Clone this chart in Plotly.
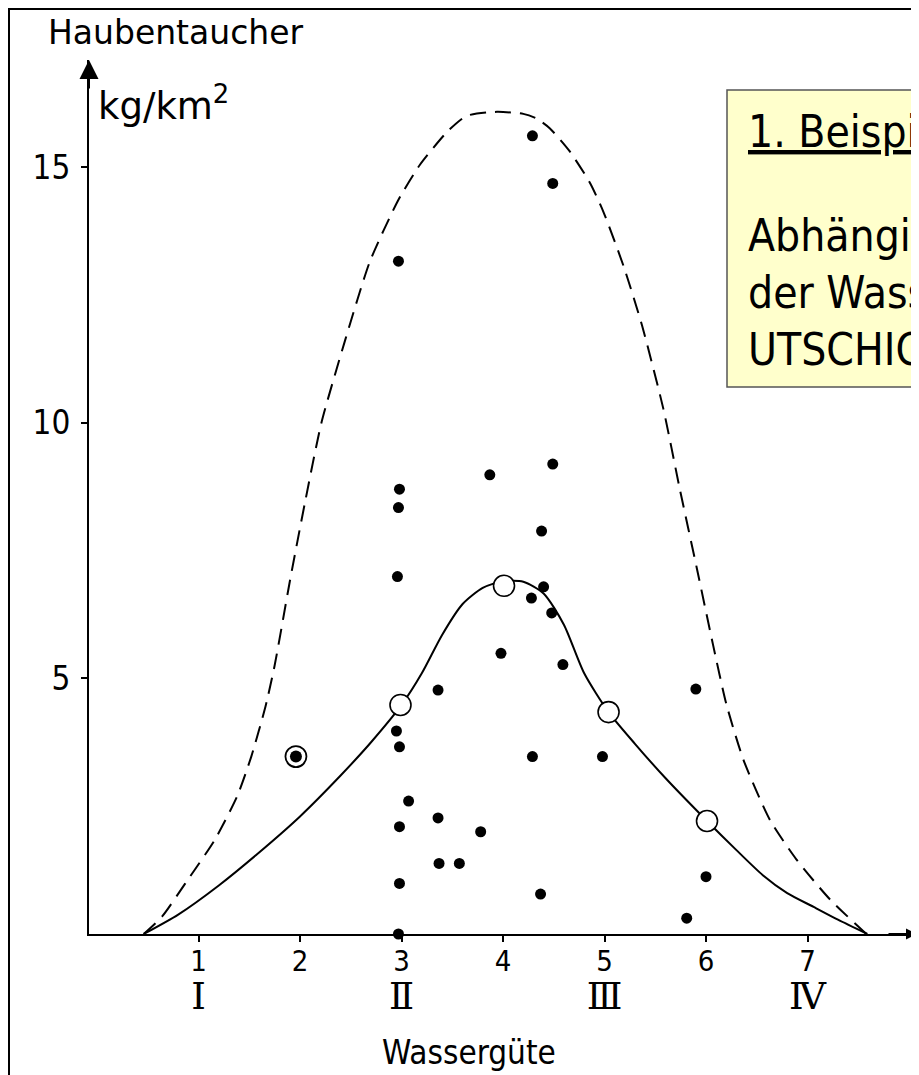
import plotly.graph_objects as go

# ---------------- data ----------------
dots_x = [2.97, 2.98, 2.97, 2.96, 2.95, 2.98, 2.98, 2.98, 2.97, 3.07,
          3.36, 3.36, 3.37, 3.57, 3.78, 3.87, 3.98, 4.28, 4.29, 4.29,
          4.37, 4.38, 4.40, 4.48, 4.49, 4.49, 4.59, 4.98, 5.81, 5.90, 6.00]
dots_y = [13.16, 8.70, 8.34, 6.99, 3.97, 3.66, 2.10, 0.99, 0.00, 2.60,
          4.77, 2.27, 1.38, 1.38, 2.00, 8.98, 5.49, 6.57, 3.47, 15.61,
          0.78, 7.88, 6.79, 6.28, 14.68, 9.19, 5.27, 3.47, 0.31, 4.79, 1.12]

ringed_x = [1.96]
ringed_y = [3.47]

mean_x = [2.99, 4.01, 5.04, 6.01]
mean_y = [4.48, 6.81, 4.34, 2.21]

solid_x = [0.46, 0.80, 1.20, 1.60, 2.00, 2.40, 2.70, 3.00, 3.20, 3.40, 3.60,
           3.80, 4.00, 4.20, 4.40, 4.60, 4.80, 5.04, 5.30, 5.60, 6.01, 6.30,
           6.56, 6.80, 7.06, 7.30, 7.59]
solid_y = [0.00, 0.38, 0.95, 1.60, 2.30, 3.10, 3.75, 4.48, 5.10, 5.85, 6.45,
           6.77, 6.90, 6.89, 6.66, 6.05, 5.10, 4.34, 3.72, 3.05, 2.21, 1.64,
           1.15, 0.80, 0.53, 0.28, 0.00]

dash_x = [0.46, 0.64, 0.87, 1.16, 1.38, 1.52, 1.66, 1.75, 1.90, 2.05, 2.21,
          2.45, 2.69, 2.97, 3.18, 3.45, 3.64, 3.94, 4.20, 4.33, 4.46, 4.66,
          4.86, 4.99, 5.19, 5.37, 5.58, 5.74, 5.91, 6.07, 6.20, 6.37, 6.63,
          6.89, 7.22, 7.58]
dash_y = [0.00, 0.34, 0.99, 1.84, 2.69, 3.47, 4.45, 5.25, 6.90, 8.45, 9.99,
          11.65, 13.16, 14.36, 15.04, 15.69, 16.00, 16.08, 16.04, 15.95, 15.76,
          15.30, 14.68, 14.12, 13.05, 11.90, 10.27, 8.72, 7.15, 5.65, 4.50,
          3.40, 2.23, 1.46, 0.68, 0.00]

x_ticks = [1, 2, 3, 4, 5, 6, 7]
x_tick_text = ["1", "2", "3", "4", "5", "6", "7"]
roman_text = ["Ⅰ", "", "Ⅱ", "", "Ⅲ", "", "Ⅳ"]   # quality classes under ticks
y_ticks = [5, 10, 15]
y_tick_text = ["5", "10", "15"]

# ---------------- layout geometry (page pixels) ----------------
PAGE_W, PAGE_H = 919, 1075
OFF = 8                         # default body margin of the html page
W, H = PAGE_W - OFF, PAGE_H - OFF
L, R, T, B = 89, 917, 60, 934   # plot area in page pixels
X_RANGE = [(89 - 97) / 101.5, (917 - 97) / 101.5]
Y_RANGE = [0, (934 - 60) / 51.13]


def fx(px):
    return (px - L) / (R - L)


def fy(py):
    return (B - py) / (B - T)


ROMAN_STYLE = "font-family:DejaVu Serif, DejaVu Sans;font-size:37px"
x_labels = []
for d, r in zip(x_tick_text, roman_text):
    if r:
        x_labels.append(f"{d}<br><span style='{ROMAN_STYLE}'>{r}</span>")
    else:
        x_labels.append(d)

fig = go.Figure()

fig.add_trace(go.Scatter(x=dash_x, y=dash_y, mode="lines",
                         line=dict(color="black", width=2, dash="16px,9px",
                                   shape="spline", smoothing=0.6),
                         hoverinfo="skip", showlegend=False))
fig.add_trace(go.Scatter(x=solid_x, y=solid_y, mode="lines",
                         line=dict(color="black", width=2,
                                   shape="spline", smoothing=0.7),
                         hoverinfo="skip", showlegend=False))
fig.add_trace(go.Scatter(x=dots_x, y=dots_y, mode="markers",
                         marker=dict(color="black", size=11),
                         cliponaxis=False, showlegend=False))
fig.add_trace(go.Scatter(x=ringed_x, y=ringed_y, mode="markers",
                         marker=dict(color="white", size=21,
                                     line=dict(color="black", width=1.8)),
                         cliponaxis=False, showlegend=False))
fig.add_trace(go.Scatter(x=ringed_x, y=ringed_y, mode="markers",
                         marker=dict(color="black", size=12),
                         cliponaxis=False, showlegend=False))
fig.add_trace(go.Scatter(x=mean_x, y=mean_y, mode="markers",
                         marker=dict(color="white", size=21,
                                     line=dict(color="black", width=1.6)),
                         cliponaxis=False, showlegend=False))

tick_font = dict(family="Liberation Sans Narrow, DejaVu Sans Condensed, sans-serif",
                 color="black")

fig.update_xaxes(range=X_RANGE, showgrid=False, zeroline=False,
                 showline=True, linecolor="black", linewidth=2,
                 tickmode="array", tickvals=x_ticks, ticktext=x_labels,
                 ticks="outside", ticklen=6, tickwidth=2, tickcolor="black",
                 ticklabelstandoff=-6,
                 tickfont=dict(size=29, **tick_font), fixedrange=True)
fig.update_yaxes(range=Y_RANGE, showgrid=False, zeroline=False,
                 showline=True, linecolor="black", linewidth=2,
                 tickmode="array", tickvals=y_ticks, ticktext=y_tick_text,
                 ticks="outside", ticklen=6, tickwidth=2, tickcolor="black",
                 ticklabelstandoff=4,
                 tickfont=dict(size=33, **tick_font), fixedrange=True)

shapes = [
    # outer frame
    dict(type="rect", xref="paper", yref="paper",
         x0=fx(9), x1=fx(940), y0=fy(1100), y1=fy(9),
         line=dict(color="black", width=2), fillcolor="rgba(0,0,0,0)",
         layer="below"),
    # yellow text box
    dict(type="rect", xref="paper", yref="paper",
         x0=fx(727), x1=fx(940), y0=fy(387), y1=fy(90),
         line=dict(color="#555555", width=1.5), fillcolor="#FFFFCC",
         layer="above"),
]

annotations = [
    # axis arrowheads
    dict(xref="paper", yref="paper", x=0, y=1, ax=0, ay=30, text="",
         showarrow=True, arrowhead=2, arrowsize=1.9, arrowwidth=2,
         arrowcolor="black"),
    dict(xref="paper", yref="paper", x=1, y=0, ax=-30, ay=0, text="",
         showarrow=True, arrowhead=2, arrowsize=1.1, arrowwidth=2,
         arrowcolor="black"),
    # axis titles
    dict(xref="paper", yref="paper", x=fx(46), y=fy(32), text="Haubentaucher",
         xanchor="left", yanchor="middle", showarrow=False,
         font=dict(family="DejaVu Sans", size=33, color="black")),
    dict(xref="paper", yref="paper", x=fx(96), y=fy(103),
         text="kg/km<sup>2</sup>", xanchor="left", yanchor="middle",
         showarrow=False,
         font=dict(family="DejaVu Sans", size=37, color="black")),
    dict(xref="paper", yref="paper", x=fx(469), y=fy(1052), text="Wassergüte",
         xanchor="center", yanchor="middle", showarrow=False,
         font=dict(family="DejaVu Sans Condensed, DejaVu Sans", size=33,
                   color="black")),
    # text box content
    dict(xref="paper", yref="paper", x=fx(746), y=fy(131),
         text="<u>1. Beispiel</u>", xanchor="left", yanchor="middle",
         align="left", showarrow=False,
         font=dict(family="DejaVu Sans Condensed, DejaVu Sans", size=44,
                   color="black")),
    dict(xref="paper", yref="paper", x=fx(746), y=fy(292),
         text="Abhängigkeit der Biomasse<br>der Wassergüte (nach<br>UTSCHICK 1976)",
         xanchor="left", yanchor="middle", align="left", showarrow=False,
         font=dict(family="DejaVu Sans Condensed, DejaVu Sans", size=44,
                   color="black")),
]

fig.update_layout(width=W, height=H, autosize=False,
                  margin=dict(l=L - OFF, r=PAGE_W - R, t=T - OFF,
                              b=PAGE_H - B, pad=0),
                  paper_bgcolor="white", plot_bgcolor="white",
                  shapes=shapes, annotations=annotations,
                  showlegend=False)

fig.write_html("out.html", config={"displayModeBar": False})
